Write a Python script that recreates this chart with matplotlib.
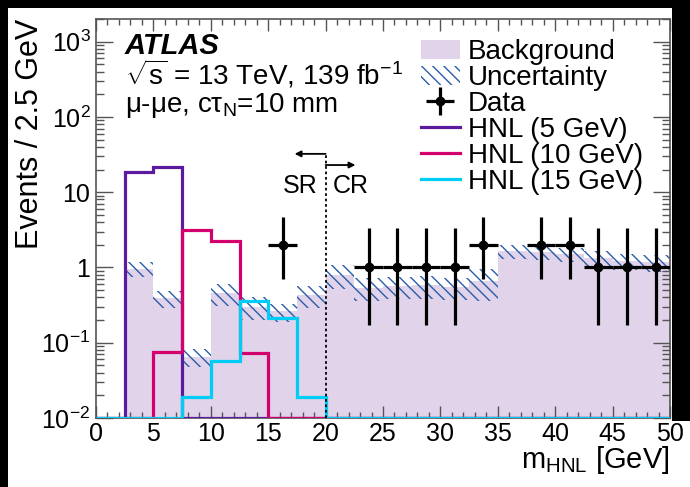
import numpy as np
import matplotlib.pyplot as plt
from matplotlib.patches import Patch, Rectangle
from matplotlib.lines import Line2D
from matplotlib.ticker import MultipleLocator, FixedLocator, FixedFormatter, LogLocator, NullFormatter

plt.rcParams['font.family'] = ['Liberation Sans', 'DejaVu Sans']
plt.rcParams['mathtext.fontset'] = 'custom'
plt.rcParams['mathtext.rm'] = 'Liberation Sans'
plt.rcParams['mathtext.it'] = 'Liberation Sans:italic'
plt.rcParams['mathtext.bf'] = 'Liberation Sans:bold'
plt.rcParams['hatch.linewidth'] = 1.0

# 2.5 GeV bins from 0 to 50 GeV
bin_edges = np.arange(0, 50.01, 2.5)
bin_centers = 0.5 * (bin_edges[:-1] + bin_edges[1:])

# expected background and its uncertainty
bkg = np.array([0, 0.96, 0.39, 0.065, 0.46, 0.30, 0.26, 0.43, 0.80, 0.54,
                0.56, 0.58, 0.55, 0.66, 1.65, 1.62, 1.50, 1.35, 1.22, 1.18])
bkg_err = np.array([0, 0.22, 0.10, 0.017, 0.15, 0.10, 0.07, 0.14, 0.28, 0.18,
                    0.18, 0.20, 0.18, 0.30, 0.35, 0.35, 0.33, 0.32, 0.30, 0.30])

# observed events and Poisson (Garwood) errors
data = np.array([0, 0, 0, 0, 0, 0, 2, 0, 0, 1, 1, 1, 1, 2, 0, 2, 2, 1, 1, 1])
err_lo_of = {1: 0.827, 2: 1.292}
err_hi_of = {1: 2.300, 2: 2.638}

# signal models
hnl_5 = np.array([0, 18.3, 21.5, 0, 0, 0, 0, 0, 0, 0, 0, 0, 0, 0, 0, 0, 0, 0, 0, 0])
hnl_10 = np.array([0, 0, 0.076, 3.1, 2.25, 0.072, 0, 0, 0, 0, 0, 0, 0, 0, 0, 0, 0, 0, 0, 0])
hnl_15 = np.array([0, 0, 0, 0.019, 0.058, 0.36, 0.21, 0.019, 0, 0, 0, 0, 0, 0, 0, 0, 0, 0, 0, 0])

ytick_vals = [1e-2, 1e-1, 1, 10, 1e2, 1e3]
ytick_labels = [r'$10^{-2}$', r'$10^{-1}$', '1', '10', r'$10^{2}$', r'$10^{3}$']

c_bkg = '#e0d3ea'
c_unc = '#2b5ca8'
c_5 = '#5c1a9e'
c_10 = '#d4006e'
c_15 = '#00cdf5'
hatch = '\\\\\\'

ymin, ymax = 1e-2, 2.0e3

fig = plt.figure(figsize=(6.9, 4.87), dpi=100, facecolor='black')
fig.patches.append(Rectangle((8 / 690, 0), 664 / 690, 479 / 487, transform=fig.transFigure,
                             facecolor='white', edgecolor='none', zorder=-10))
fig.patches.append(Rectangle((660 / 690, 0), 30 / 690, 66 / 487, transform=fig.transFigure,
                             facecolor='white', edgecolor='none', zorder=-10))
ax = fig.add_axes([96 / 690, 69 / 487, 574 / 690, 399 / 487])

ax.bar(bin_centers, bkg, width=2.5, color=c_bkg, linewidth=0, zorder=1)
ax.bar(bin_centers, 2 * bkg_err, bottom=bkg - bkg_err, width=2.5, fill=False,
       hatch=hatch, edgecolor=c_unc, linewidth=0, zorder=2)

for vals, col in [(hnl_5, c_5), (hnl_10, c_10), (hnl_15, c_15)]:
    ax.stairs(np.clip(vals, ymin, None), bin_edges, baseline=ymin, color=col, linewidth=2.3, zorder=3)

sel = data > 0
dx = bin_centers[sel]
dy = data[sel]
ylo = [err_lo_of[n] for n in dy]
yhi = [err_hi_of[n] for n in dy]
dat = ax.errorbar(dx, dy, xerr=1.25, yerr=[ylo, yhi], fmt='o', color='black',
                  markersize=6, elinewidth=2.3, capsize=0, zorder=5)

# SR / CR boundary
trans = ax.get_xaxis_transform()
ax.plot([20, 20], [0, 0.662], transform=trans, color='black', linestyle=(0, (1.5, 1.5)),
        linewidth=1.3, zorder=4)
ax.annotate('', xy=(17.3, 0.662), xytext=(20, 0.662), xycoords=trans, textcoords=trans,
            arrowprops=dict(arrowstyle='-|>', color='black', lw=1.3, mutation_scale=9,
                            shrinkA=0, shrinkB=0))
ax.annotate('', xy=(22.6, 0.634), xytext=(20, 0.634), xycoords=trans, textcoords=trans,
            arrowprops=dict(arrowstyle='-|>', color='black', lw=1.3, mutation_scale=9,
                            shrinkA=0, shrinkB=0))
ax.text(19.3, 0.581, 'SR', transform=trans, ha='right', va='center', fontsize=18)
ax.text(20.6, 0.581, 'CR', transform=trans, ha='left', va='center', fontsize=18)

ax.set_xlim(0, 50)
ax.set_yscale('log')
ax.set_ylim(ymin, ymax)
ax.xaxis.set_major_locator(MultipleLocator(5))
ax.xaxis.set_minor_locator(MultipleLocator(1))
ax.yaxis.set_major_locator(FixedLocator(ytick_vals))
ax.yaxis.set_major_formatter(FixedFormatter(ytick_labels))
ax.yaxis.set_minor_locator(LogLocator(base=10, subs=np.arange(2, 10)))
ax.yaxis.set_minor_formatter(NullFormatter())

ax.tick_params(which='both', direction='in', top=True, right=True, color='#555555',
               labelcolor='black', labelsize=18, width=1.0)
ax.tick_params(axis='x', which='major', length=8.5, pad=3)
ax.tick_params(axis='x', which='minor', length=4.3)
ax.tick_params(axis='y', which='major', length=12, pad=4)
ax.tick_params(axis='y', which='minor', length=6)
for s in ax.spines.values():
    s.set_color('#555555')
    s.set_linewidth(1.2)

ax.set_ylabel('Events / 2.5 GeV', fontsize=22, loc='top')
ax.yaxis.set_label_coords(-0.088, 1.0)
ax.set_xlabel(r'm$_{\mathrm{HNL}}$ [GeV]', fontsize=21, loc='right')
ax.xaxis.set_label_coords(1.0, -0.065)

ax.text(0.05, 0.912, 'ATLAS', transform=ax.transAxes, fontsize=21, fontweight='bold',
        fontstyle='italic')
ax.text(0.05, 0.836, r'$\sqrt{\mathrm{s}}$ = 13 TeV, 139 fb$^{-1}$', transform=ax.transAxes, fontsize=20)
ax.text(0.05, 0.767, r'μ-μe, cτ$_{\mathrm{N}}$=10 mm', transform=ax.transAxes, fontsize=20)

handles = [Patch(facecolor=c_bkg, edgecolor='none'),
           Patch(facecolor='none', edgecolor=c_unc, hatch=hatch, linewidth=0),
           dat,
           Line2D([], [], color=c_5, lw=2.3),
           Line2D([], [], color=c_10, lw=2.3),
           Line2D([], [], color=c_15, lw=2.3)]
labels = ['Background', 'Uncertainty', 'Data', 'HNL (5 GeV)', 'HNL (10 GeV)', 'HNL (15 GeV)']
ax.legend(handles, labels, loc='upper left', bbox_to_anchor=(0.566, 0.95), frameon=False,
          fontsize=20, handlelength=1.4, handleheight=0.7, handletextpad=0.3,
          labelspacing=0.0, borderpad=0, borderaxespad=0)

fig.savefig('out.png', dpi=100, facecolor=fig.get_facecolor())
